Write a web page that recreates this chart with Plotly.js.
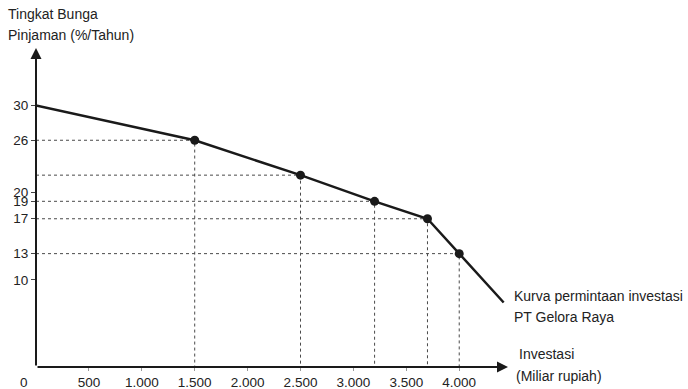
<!DOCTYPE html>
<html>
<head>
<meta charset="utf-8">
<script src="https://cdn.plot.ly/plotly-3.0.1.min.js"></script>
<style>html,body{margin:0;padding:0;background:#fff;}#chart{width:688px;height:389px;}</style>
</head>
<body>
<div id="chart"></div>
<script>
// Demand curve vertices (Investasi, Tingkat Bunga)
const curveX = [0, 1500, 2500, 3200, 3700, 4000, 4420];
const curveY = [30, 26, 22, 19, 17, 13, 7.4];
// Marked points with guide lines
const pointX = [1500, 2500, 3200, 3700, 4000];
const pointY = [26, 22, 19, 17, 13];
// Axis ticks
const xTickVals = [500, 1000, 1500, 2000, 2500, 3000, 3500, 4000];
const xTickText = ['500', '1.000', '1.500', '2.000', '2.500', '3.000', '3.500', '4.000'];
const yTickVals = [10, 13, 17, 19, 20, 26, 30];
const yTickText = ['10', '13', '17', '19', '20', '26', '30'];

const xMax = 4461, yMax = 36.58;
const FONT = '"Liberation Sans", Arial, sans-serif';
const LBL = 14;

// dashed guide lines
const gx = [], gy = [];
pointX.forEach((px, i) => {
  gx.push(0, px, px, null);
  gy.push(pointY[i], pointY[i], 0, null);
});

const traces = [
  {x: gx, y: gy, mode: 'lines', line: {color: '#4a4a4a', width: 1, dash: '3px,3px'}, hoverinfo: 'skip', showlegend: false},
  {x: curveX, y: curveY, mode: 'lines', line: {color: '#1a1a1a', width: 2.5}, showlegend: false, cliponaxis: false},
  {x: pointX, y: pointY, mode: 'markers', marker: {color: '#1a1a1a', size: 9}, showlegend: false, cliponaxis: false}
];

function txt(px, py, s, anchor) {
  return {xref: 'paper', yref: 'paper', x: (px - 36) / 472, y: (367 - py) / 319,
    xanchor: anchor || 'left', yanchor: 'middle', showarrow: false, text: s,
    font: {family: FONT, size: LBL, color: '#222'}};
}

const ann = [
  {x: xMax, y: 0, ax: 0, ay: 0, axref: 'x', ayref: 'y', xref: 'x', yref: 'y', text: '', showarrow: true, arrowhead: 2, arrowsize: 1.1, arrowwidth: 2, arrowcolor: '#1a1a1a', standoff: 0},
  {x: 0, y: yMax, ax: 0, ay: 0, axref: 'x', ayref: 'y', xref: 'x', yref: 'y', text: '', showarrow: true, arrowhead: 2, arrowsize: 1.1, arrowwidth: 2, arrowcolor: '#1a1a1a', standoff: 0},
  txt(6, 14, 'Tingkat Bunga'),
  txt(6, 35, 'Pinjaman (%/Tahun)'),
  txt(517, 354, 'Investasi'),
  txt(514, 376, '(Miliar rupiah)'),
  txt(512, 296, 'Kurva permintaan investasi'),
  txt(512, 317, 'PT Gelora Raya'),
  Object.assign(txt(24, 382, '0', 'center'), {font: {family: FONT, size: 13.5, color: '#222'}})
];

const layout = {
  width: 688, height: 389,
  margin: {l: 36, r: 180, t: 48, b: 22, pad: 0},
  paper_bgcolor: '#fff', plot_bgcolor: '#fff',
  showlegend: false,
  xaxis: {
    range: [0, xMax], showgrid: false, zeroline: false, showline: false,
    tickmode: 'array', tickvals: xTickVals, ticktext: xTickText,
    ticks: 'outside', ticklen: 3, tickcolor: '#999', tickwidth: 1,
    tickfont: {family: FONT, size: 13.5, color: '#222'}, fixedrange: true
  },
  yaxis: {
    range: [0, yMax], showgrid: false, zeroline: false, showline: false,
    tickmode: 'array', tickvals: yTickVals, ticktext: yTickText,
    ticks: 'outside', ticklen: 4, tickcolor: '#444', tickwidth: 1,
    tickfont: {family: FONT, size: 13.5, color: '#222'}, fixedrange: true
  },
  annotations: ann
};

Plotly.newPlot('chart', traces, layout, {displayModeBar: false, staticPlot: true});
</script>
</body>
</html>
